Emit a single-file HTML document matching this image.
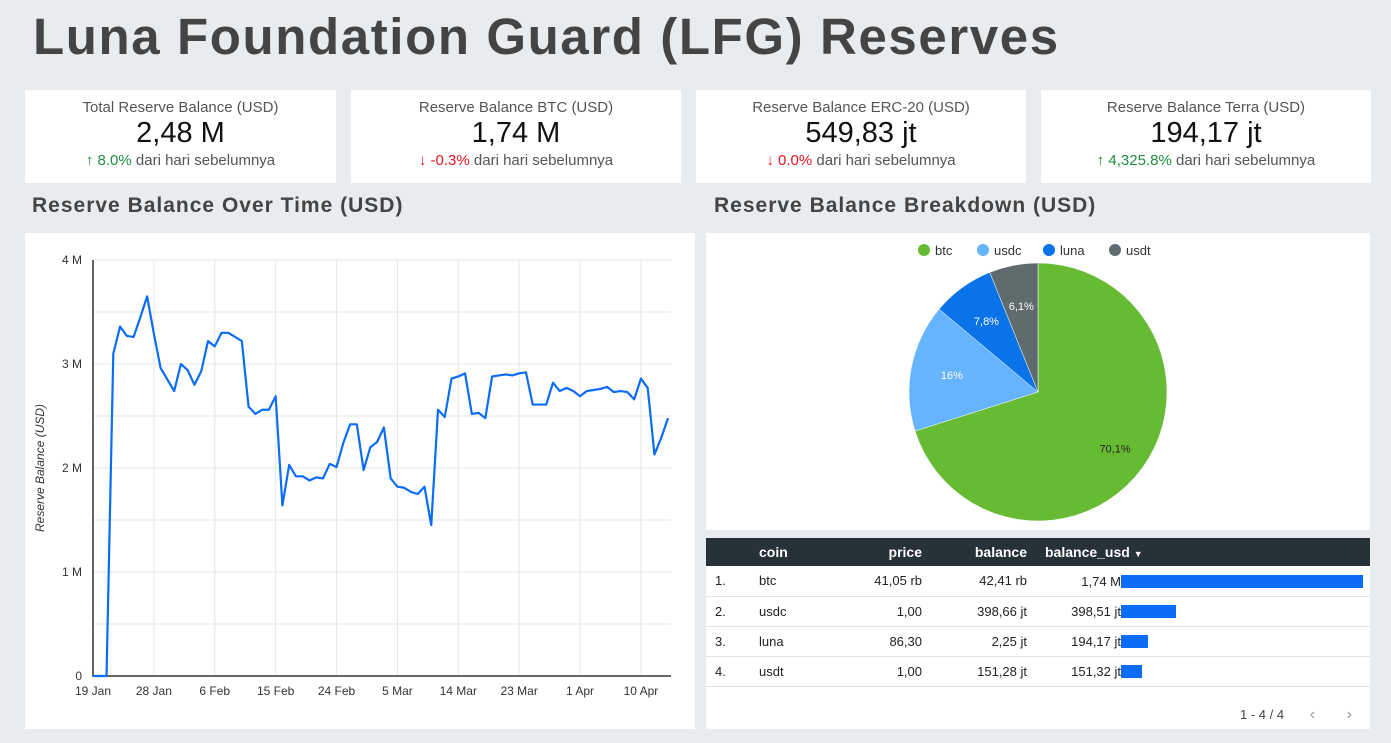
<!DOCTYPE html>
<html><head><meta charset="utf-8"><style>
body{margin:0;width:1391px;height:743px;background:#e9ecef;font-family:"Liberation Sans",sans-serif;position:relative;overflow:hidden;color:#222}
.abs{position:absolute}
.card{background:#fff;position:absolute;top:90px;height:93px;text-align:center}
.card .t{margin-top:9px;font-size:15px;color:#555}
.card .v{font-size:29px;color:#111;margin-top:1px}
.card .c{font-size:15px;color:#555;margin-top:2px}
.up{color:#1e8e3e}.dn{color:#e8141e}
.sec{font-size:21px;font-weight:bold;color:#444;letter-spacing:1px}
table{border-collapse:collapse;font-size:13px;table-layout:fixed}
</style></head><body>
<div class="abs" style="left:33px;top:7px;font-size:51px;font-weight:bold;color:#444;letter-spacing:1.6px">Luna Foundation Guard (LFG) Reserves</div>

<div class="card" style="left:25px;width:311px"><div class="t">Total Reserve Balance (USD)</div><div class="v">2,48 M</div><div class="c"><span class="up">&#x2191; 8.0%</span> dari hari sebelumnya</div></div>
<div class="card" style="left:351px;width:330px"><div class="t">Reserve Balance BTC (USD)</div><div class="v">1,74 M</div><div class="c"><span class="dn">&#x2193; -0.3%</span> dari hari sebelumnya</div></div>
<div class="card" style="left:696px;width:330px"><div class="t">Reserve Balance ERC-20 (USD)</div><div class="v">549,83 jt</div><div class="c"><span class="dn">&#x2193; 0.0%</span> dari hari sebelumnya</div></div>
<div class="card" style="left:1041px;width:330px"><div class="t">Reserve Balance Terra (USD)</div><div class="v">194,17 jt</div><div class="c"><span class="up">&#x2191; 4,325.8%</span> dari hari sebelumnya</div></div>

<div class="abs sec" style="left:32px;top:194px">Reserve Balance Over Time (USD)</div>
<div class="abs sec" style="left:714px;top:194px">Reserve Balance Breakdown (USD)</div>

<div class="abs" style="left:25px;top:233px;width:670px;height:496px;background:#fff">
<svg id="line" width="670" height="496" style="position:absolute;left:0;top:0;font-family:'Liberation Sans',sans-serif"></svg>
</div>

<div class="abs" style="left:706px;top:233px;width:664px;height:297px;background:#fff">
<svg id="pie" width="664" height="297" style="position:absolute;left:0;top:0;font-family:'Liberation Sans',sans-serif"></svg>
</div>

<div class="abs" style="left:706px;top:538px;width:664px;height:191px;background:#fff">
<table style="width:664px">
<colgroup><col style="width:52px"><col style="width:70px"><col style="width:95px"><col style="width:105px"><col></colgroup>
<tr style="background:#263238;color:#fff;font-weight:bold;height:28px;font-size:14px">
<td></td><td>coin</td><td style="text-align:right">price</td><td style="text-align:right">balance</td><td style="padding-left:17px">balance_usd <span style="font-size:9px">&#9660;</span></td></tr>
<tbody id="tb"></tbody>
</table>
<div class="abs" style="left:534px;top:168px;font-size:13px;color:#444">1 - 4 / 4 <span style="margin-left:22px;color:#999;font-size:16px">&#x2039;</span> <span style="margin-left:28px;color:#999;font-size:16px">&#x203A;</span></div>
</div>

<script>
const NS="http://www.w3.org/2000/svg";
function mk(p,t,a){const e=document.createElementNS(NS,t);for(const k in a)e.setAttribute(k,a[k]);p.appendChild(e);return e;}
// ---- line chart data ----
const startDate="2022-01-19";
const balances=[0,0,0,3.10,3.36,3.27,3.26,3.45,3.65,3.29,2.96,2.85,2.74,3.00,2.94,2.80,2.93,3.22,3.17,3.30,3.30,3.26,3.22,2.59,2.52,2.56,2.56,2.69,1.64,2.03,1.92,1.92,1.88,1.91,1.90,2.04,2.01,2.24,2.42,2.42,1.98,2.20,2.25,2.39,1.90,1.82,1.81,1.77,1.75,1.82,1.45,2.56,2.49,2.86,2.88,2.91,2.52,2.53,2.48,2.88,2.89,2.90,2.89,2.91,2.92,2.61,2.61,2.61,2.82,2.74,2.77,2.74,2.69,2.74,2.75,2.76,2.78,2.73,2.74,2.73,2.66,2.86,2.77,2.13,2.29,2.48];
const yTicks=[0,1,2,3,4];
const yTickLabels=["0","1 M","2 M","3 M","4 M"];
const xTickDays=[0,9,18,27,36,45,54,63,72,81];
const xTickLabels=["19 Jan","28 Jan","6 Feb","15 Feb","24 Feb","5 Mar","14 Mar","23 Mar","1 Apr","10 Apr"];
const L=document.getElementById('line');
const x0=68,x1=643,yb=443,yt=27,nDays=85;
const xs=d=>x0+(d/nDays)*(x1-x0);
const ys=v=>yb-(v/4)*(yb-yt);
for(let v=0;v<=4;v+=0.5){const g=mk(L,'line',{x1:x0,x2:x1+3,y1:ys(v),y2:ys(v),stroke:'#e6e6e6'});}
xTickDays.forEach((d,i)=>{const g=mk(L,'line',{x1:xs(d),x2:xs(d),y1:yt,y2:yb,stroke:'#e6e6e6'});
const t=mk(L,'text',{x:xs(d),y:yb+19,'text-anchor':'middle','font-size':12,fill:'#333'});t.textContent=xTickLabels[i];});
yTicks.forEach((v,i)=>{const t=mk(L,'text',{x:x0-11,y:ys(v)+4,'text-anchor':'end','font-size':12,fill:'#333'});t.textContent=yTickLabels[i];});
const ax=mk(L,'path',{d:`M${x0} ${yt}V${yb}H${x1+3}`,stroke:'#333',fill:'none','stroke-width':1.5});
const yt2=mk(L,'text',{transform:`translate(19,${(yt+yb)/2}) rotate(-90)`,'text-anchor':'middle','font-size':12,'font-style':'italic',fill:'#333'});yt2.textContent='Reserve Balance (USD)';
const pl=mk(L,'polyline',{points:balances.map((v,i)=>xs(i)+','+ys(v)).join(' '),fill:'none',stroke:'#0b6cf5','stroke-width':2.2,'stroke-linejoin':'round'});


// ---- pie data ----
const coins=["btc","usdc","luna","usdt"];
const shares=[70.1,16.0,7.8,6.1];
const shareLabels=["70,1%","16%","7,8%","6,1%"];
const pieColors=["#66bb33","#66b3ff","#0a73e8","#5f6b6d"];
const P=document.getElementById('pie');
const cx=332,cy=159,r=129;
let lx=218;
coins.forEach((c,i)=>{const ci=mk(P,'circle',{cx:lx,cy:17,r:6,fill:pieColors[i]});
const t=mk(P,'text',{x:lx+11,y:22,'font-size':13,fill:'#333'});t.textContent=c;lx+=c.length*7+38;});
const tot=shares.reduce((a,b)=>a+b,0);let a=0;
shares.forEach((s,i)=>{const a0=a,a1=a+s/tot*2*Math.PI;a=a1;
const p=(t)=>[cx+r*Math.sin(t),cy-r*Math.cos(t)];const [sx,sy]=p(a0),[ex,ey]=p(a1);
const path=mk(P,'path',{d:`M${cx} ${cy}L${sx} ${sy}A${r} ${r} 0 ${a1-a0>Math.PI?1:0} 1 ${ex} ${ey}Z`,fill:pieColors[i],stroke:'#fff','stroke-width':0.5});


const m=(a0+a1)/2,lr=r*(i==0?0.74:0.68);
const t=mk(P,'text',{x:cx+lr*Math.sin(m),y:cy-lr*Math.cos(m)+4,'text-anchor':'middle','font-size':11,fill:i==0?'#222':'#fff'});t.textContent=shareLabels[i];});
// ---- table data ----
const prices=["41,05 rb","1,00","86,30","1,00"];
const balLabels=["42,41 rb","398,66 jt","2,25 jt","151,28 jt"];
const usdLabels=["1,74 M","398,51 jt","194,17 jt","151,32 jt"];
const usdValues=[1.74,0.39851,0.19417,0.15132];
const tb=document.getElementById('tb');const mx=Math.max(...usdValues);
coins.forEach((c,i)=>{const tr=document.createElement('tr');tr.style.height='30px';tr.style.borderBottom='1px solid #e3e3e3';


tr.innerHTML=`<td style="padding-left:9px">${i+1}.</td><td>${c}</td><td style="text-align:right">${prices[i]}</td><td style="text-align:right">${balLabels[i]}</td><td style="white-space:nowrap"><span style="display:inline-block;width:92px;text-align:right;vertical-align:middle">${usdLabels[i]}</span><span style="display:inline-block;vertical-align:middle;height:13px;background:#0b6cf5;width:${usdValues[i]/mx*242}px"></span></td>`;
tb.appendChild(tr);});
</script>
</body></html>
